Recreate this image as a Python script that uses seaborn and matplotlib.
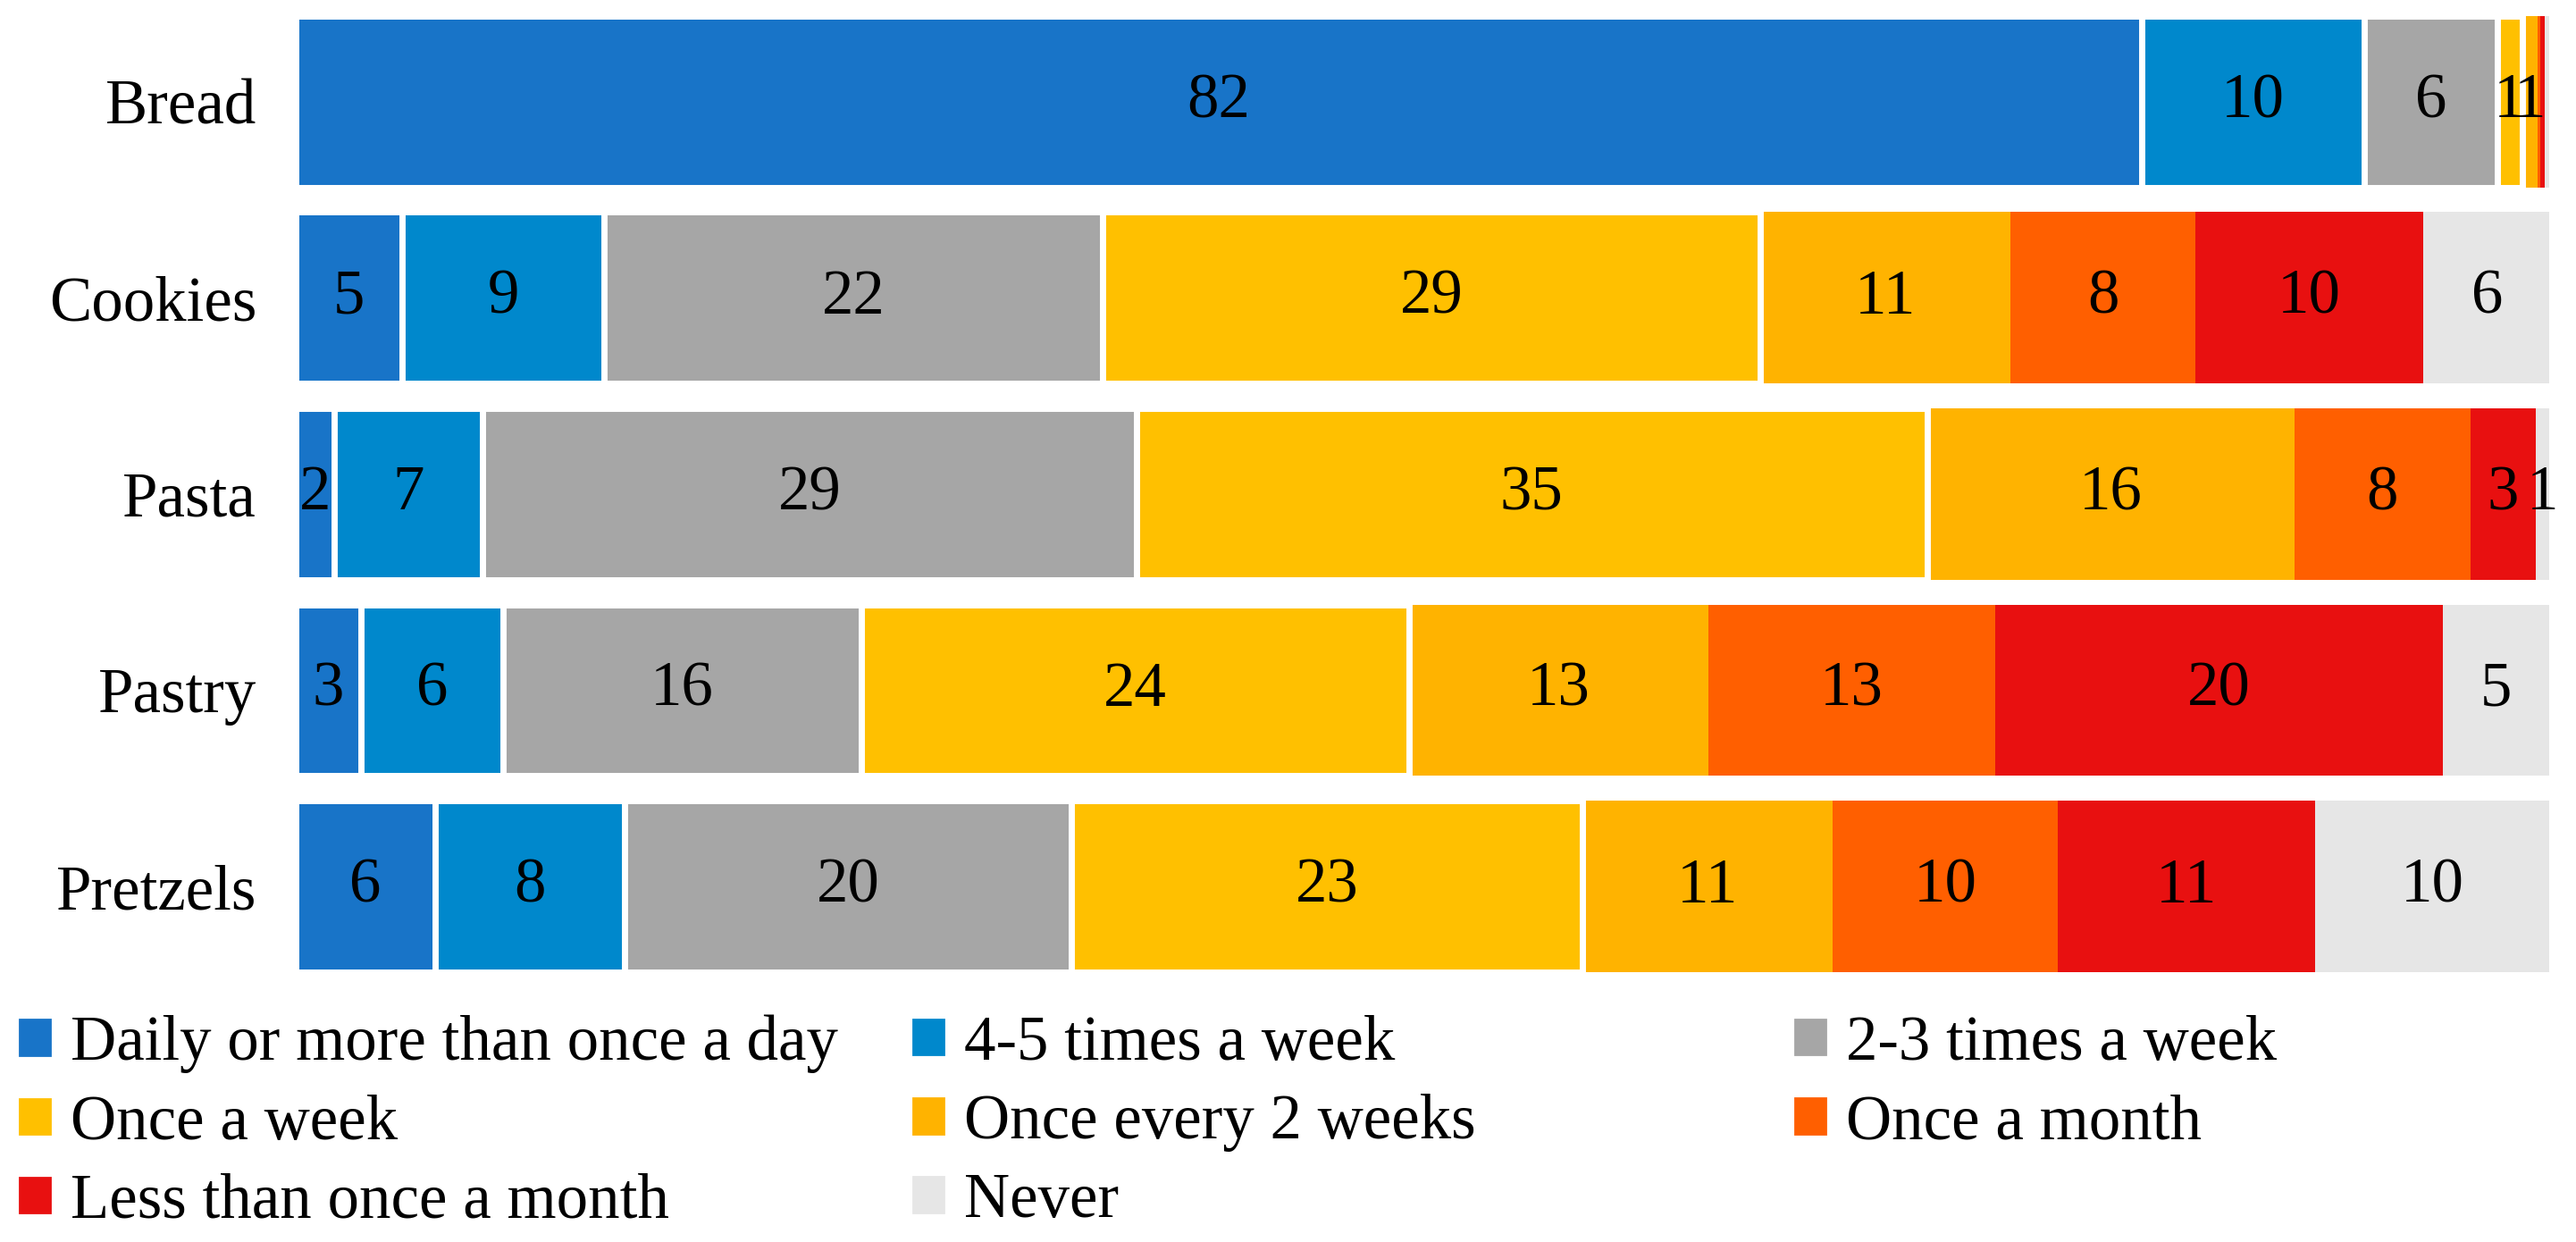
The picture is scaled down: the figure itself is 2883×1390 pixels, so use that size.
import matplotlib
matplotlib.use('Agg')
import matplotlib.pyplot as plt
import matplotlib.patches as mpatches
import numpy as np
import pandas as pd
import seaborn as sns

# Data (percent of respondents)
products = ['Bread', 'Cookies', 'Pasta', 'Pastry', 'Pretzels']
frequencies = ['Daily or more than once a day', '4-5 times a week', '2-3 times a week',
               'Once a week', 'Once every 2 weeks', 'Once a month',
               'Less than once a month', 'Never']
daily = [81.9, 4.7, 1.7, 2.9, 6.2]
four_five_week = [9.9, 9.0, 6.6, 6.3, 8.4]
two_three_week = [5.9, 22.1, 29.0, 15.9, 19.8]
once_week = [1.1, 29.2, 35.1, 24.3, 22.7]
every_two_weeks = [0.7, 11.1, 16.3, 13.3, 11.1]
once_month = [0.1, 8.2, 7.8, 12.7, 10.0]
less_month = [0.2, 10.1, 2.9, 19.9, 11.4]
never = [0.2, 5.7, 0.6, 4.7, 10.4]

colors = ['#1874C8', '#0088CC', '#A6A6A6', '#FFC000', '#FFB300', '#FF5F00', '#E81010', '#E6E6E6']
edged = [True, True, True, True, False, False, False, False]

df = pd.DataFrame({'product': products})
series = [daily, four_five_week, two_three_week, once_week,
          every_two_weeks, once_month, less_month, never]
for name, vals in zip(frequencies, series):
    df[name] = vals
cum = df[frequencies].cumsum(axis=1)

sns.set_theme(style='white')
plt.rcParams['font.family'] = ['Liberation Serif', 'DejaVu Serif']
plt.rcParams['text.color'] = 'black'
FS = 25.5

fig = plt.figure(figsize=(14.415, 6.95), dpi=200)
ax = fig.add_axes([0.1148, 0.2173, 0.8748, 0.7698])

# stacked bars: draw cumulative totals from the right end back to the left
for i in reversed(range(len(frequencies))):
    sns.barplot(x=cum[frequencies[i]], y=df['product'], color=colors[i],
                saturation=1, width=0.874, errorbar=None, orient='h',
                edgecolor='white' if edged[i] else 'none',
                linewidth=2.5 if edged[i] else 0, ax=ax)

# value labels in the middle of each segment
for i, name in enumerate(frequencies):
    left = cum[name] - df[name]
    for j in range(len(products)):
        v = df[name][j]
        if round(v) > 0:
            ax.text(left[j] + v / 2, j, str(int(round(v))), ha='center', va='center',
                    fontsize=FS, color='black')

ax.set_xlim(0, 100)
ax.set_ylim(len(products) - 1 + 0.437, -0.437)
ax.set_xlabel('')
ax.set_ylabel('')
ax.set_xticks([])
ax.tick_params(axis='y', length=0, pad=15.8, labelsize=FS, labelcolor='black')
for s in ax.spines.values():
    s.set_visible(False)

# legend: three columns laid out row by row
handles = [mpatches.Patch(color=c, label=l) for c, l in zip(colors, frequencies)]
col_x = [0.0076, 0.3545, 0.6968]
for k in range(3):
    idx = list(range(k, len(frequencies), 3))
    leg = fig.legend([handles[i] for i in idx], [frequencies[i] for i in idx],
                     loc='upper left', bbox_to_anchor=(col_x[k], 0.183), frameon=False,
                     fontsize=FS, borderpad=0, borderaxespad=0, handlelength=0.48,
                     handleheight=0.48, handletextpad=0.33, labelspacing=0.33)
    for t in leg.get_texts():
        t.set_color('black')

fig.savefig('out.png', dpi=200)
